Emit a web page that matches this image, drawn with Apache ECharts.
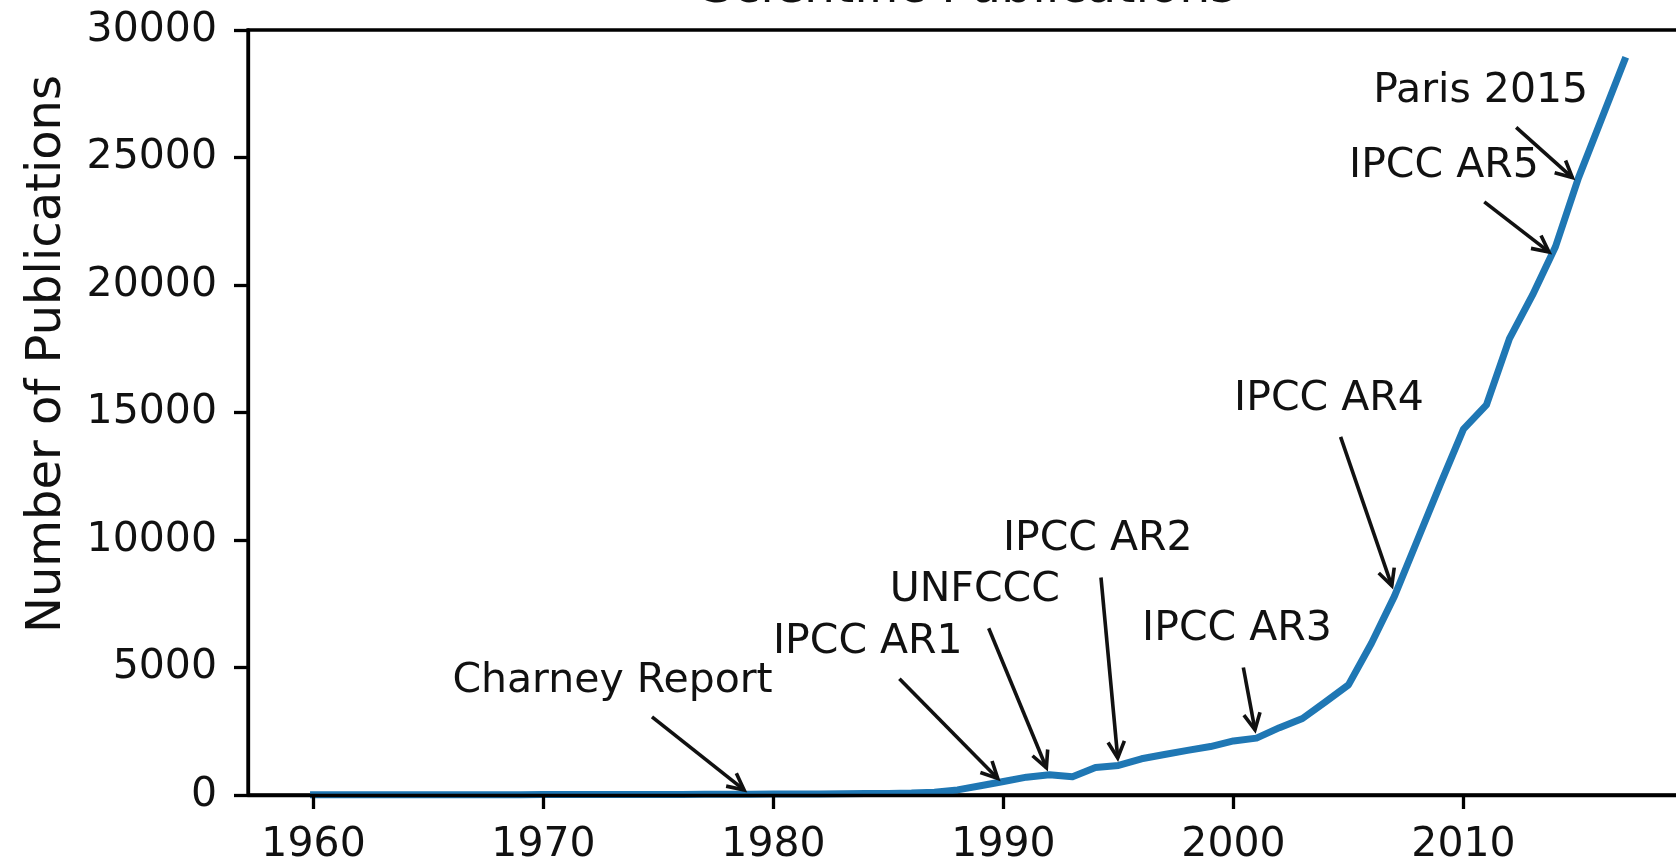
<!DOCTYPE html>
<html>
<head>
<meta charset="utf-8">
<script src="https://cdn.jsdelivr.net/npm/echarts@6/dist/echarts.min.js"></script>
<style>
html,body{margin:0;padding:0;background:#ffffff;}
#chart{width:1676px;height:865px;}
</style>
</head>
<body>
<div id="chart"></div>
<script>
// ---------- data ----------
const years = [1960,1961,1962,1963,1964,1965,1966,1967,1968,1969,
               1970,1971,1972,1973,1974,1975,1976,1977,1978,1979,
               1980,1981,1982,1983,1984,1985,1986,1987,1988,1989,
               1990,1991,1992,1993,1994,1995,1996,1997,1998,1999,
               2000,2001,2002,2003,2004,2005,2006,2007,2008,2009,
               2010,2011,2012,2013,2014,2015,2016,2017];
const publications = [8,7,9,10,9,11,12,12,14,13,
                      15,16,18,17,20,22,23,27,29,33,
                      35,40,44,50,55,62,75,110,200,360,
                      530,700,790,720,1080,1160,1420,1590,1750,1900,
                      2120,2230,2640,3000,3650,4320,5950,7800,10000,12200,
                      14350,15300,17900,19600,21500,24200,26500,28800];
const xTickValues = [1960,1970,1980,1990,2000,2010];
const yTickValues = [0,5000,10000,15000,20000,25000,30000];

const titleText = 'Scientific Publications';
const yAxisTitle = 'Number of Publications';

const annLabels     = ['Charney Report','IPCC AR1','UNFCCC','IPCC AR2','IPCC AR3','IPCC AR4','IPCC AR5','Paris 2015'];
const annYears      = [1979, 1990, 1992, 1995, 2001, 2007, 2014, 2015];
const annValues     = [0, 420, 770, 1130, 2240, 7900, 21100, 24000];
const annTextYears  = [1973.0, 1984.1, 1988.75, 1994.1, 2000.15, 2004.15, 2009.15, 2010.75];
const annTextValues = [4450, 5970, 8020, 10035, 6500, 15535, 24640, 27580];

// ---------- style ----------
const FONT = '"DejaVu Sans", "Liberation Sans", sans-serif';
const TXT = '#111111';
const TICK_FS = 41, ANN_FS = 41, LABEL_FS = 48, TITLE_FS = 49;
const SPINE_W = 3.3;

const chart = echarts.init(document.getElementById('chart'), null, {renderer: 'canvas'});

const option = {
  backgroundColor: '#ffffff',
  animation: false,
  grid: {
    left: 248, top: 30, bottom: 70, right: -14,
    outerBoundsMode: 'none',
    show: true, borderColor: '#000', borderWidth: SPINE_W, backgroundColor: 'transparent'
  },
  xAxis: {
    type: 'value', min: 1957.15, max: 2019.85, z: 5,
    axisLine: {show: true, onZero: false, lineStyle: {color: '#000', width: SPINE_W}},
    axisTick: {show: true, inside: false, length: 14, customValues: xTickValues, lineStyle: {color: '#000', width: SPINE_W}},
    axisLabel: {show: true, margin: 30, customValues: xTickValues, color: TXT, fontSize: TICK_FS, fontFamily: FONT,
                formatter: v => String(v)},
    splitLine: {show: false}
  },
  yAxis: {
    type: 'value', min: 0, max: 30000, interval: 5000, z: 5,
    axisLine: {show: true, onZero: false, lineStyle: {color: '#000', width: SPINE_W}},
    axisTick: {show: true, inside: false, length: 14, lineStyle: {color: '#000', width: SPINE_W}},
    axisLabel: {show: true, margin: 31, color: TXT, fontSize: TICK_FS, fontFamily: FONT, formatter: v => String(v)},
    splitLine: {show: false}
  },
  series: [{
    type: 'line',
    data: years.map((y, i) => [y, publications[i]]),
    showSymbol: false,
    symbol: 'none',
    clip: false,
    z: 2,
    lineStyle: {color: '#1f77b4', width: 7, cap: 'square', join: 'round'}
  }]
};
chart.setOption(option);

function buildGraphics() {
  const ctx = document.createElement('canvas').getContext('2d');
  ctx.font = ANN_FS + 'px ' + FONT;
  const els = [];
  const toPx = (x, y) => chart.convertToPixel({xAxisIndex: 0, yAxisIndex: 0}, [x, y]);

  // title, centred over the axes
  const left = toPx(option.xAxis.min, 0)[0];
  const right = toPx(option.xAxis.max, 0)[0];
  els.push({
    type: 'text', x: (left + right) / 2, y: -11, z: 10,
    style: {text: titleText, fill: TXT, fontSize: TITLE_FS, fontFamily: FONT, align: 'center', verticalAlign: 'middle'}
  });
  // y axis title
  els.push({
    type: 'text', x: 47.5, y: 354, rotation: Math.PI / 2, z: 10,
    style: {text: yAxisTitle, fill: TXT, fontSize: LABEL_FS, fontFamily: FONT, align: 'center', verticalAlign: 'middle'}
  });

  const pad = 8.2, shrink = 8.2, headL = 16.4, headW = 8.2, arrowW = 3.6;
  for (let i = 0; i < annLabels.length; i++) {
    const c = toPx(annTextYears[i], annTextValues[i]);
    const p = toPx(annYears[i], annValues[i]);
    const w = ctx.measureText(annLabels[i]).width;
    els.push({
      type: 'text', x: c[0], y: c[1], z: 10,
      style: {text: annLabels[i], fill: TXT, fontSize: ANN_FS, fontFamily: FONT, align: 'center', verticalAlign: 'middle'}
    });
    const bx = c[0], by = c[1] + 4;
    const hw = w / 2 + pad, hh = 18 + pad;
    const dx = p[0] - bx, dy = p[1] - by;
    const len = Math.hypot(dx, dy);
    const ux = dx / len, uy = dy / len;
    const tEdge = Math.min(dx !== 0 ? hw / Math.abs(dx) : Infinity, dy !== 0 ? hh / Math.abs(dy) : Infinity);
    const s = [bx + dx * tEdge + ux * shrink, by + dy * tEdge + uy * shrink];
    const t = [p[0] - ux * shrink, p[1] - uy * shrink];
    const nx = -uy, ny = ux;
    const a1 = [t[0] - ux * headL + nx * headW, t[1] - uy * headL + ny * headW];
    const a2 = [t[0] - ux * headL - nx * headW, t[1] - uy * headL - ny * headW];
    els.push({
      type: 'line', z: 10,
      shape: {x1: s[0], y1: s[1], x2: t[0], y2: t[1]},
      style: {stroke: '#111', lineWidth: arrowW, lineCap: 'butt'}
    });
    els.push({
      type: 'polyline', z: 10,
      shape: {points: [a1, t, a2]},
      style: {stroke: '#111', lineWidth: arrowW, fill: null, lineJoin: 'miter', lineCap: 'butt'}
    });
  }
  chart.setOption({graphic: els});
}
buildGraphics();
</script>
</body>
</html>
